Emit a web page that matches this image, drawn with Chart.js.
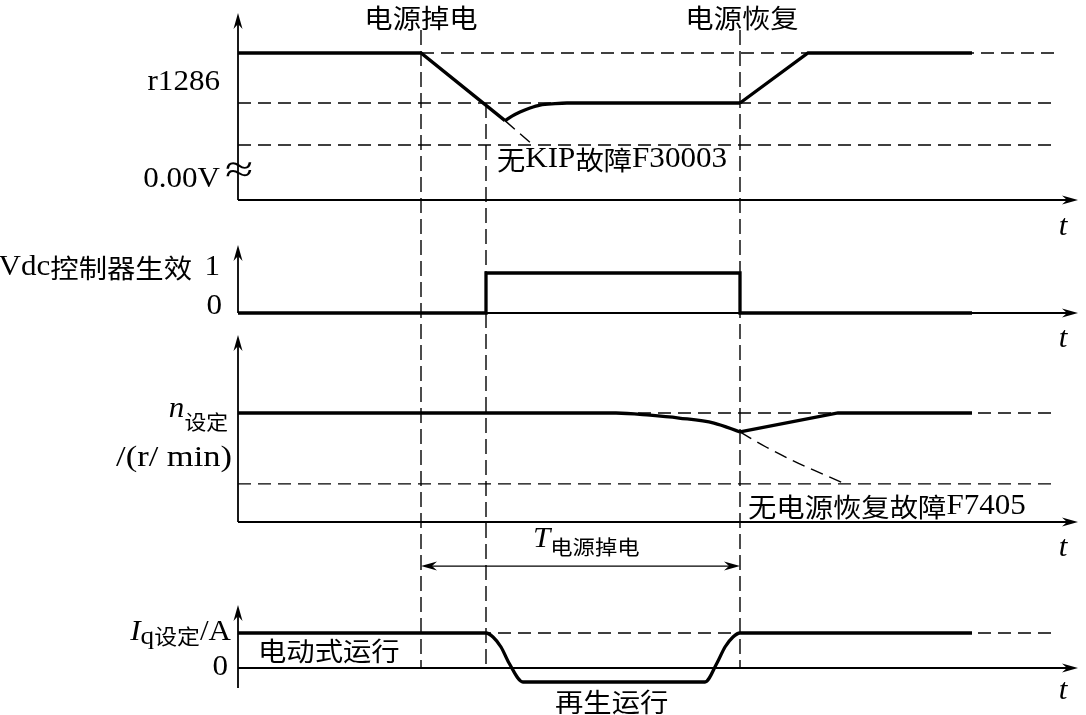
<!DOCTYPE html>
<html>
<head>
<meta charset="utf-8">
<script src="https://cdn.jsdelivr.net/npm/chart.js@4/dist/chart.umd.min.js"></script>
<style>
html, body { margin: 0; padding: 0; background: #fff; }
#wrap { width: 1086px; height: 715px; }
</style>
</head>
<body>
<div id="wrap"><canvas id="timing" width="1086" height="715"></canvas></div>
<script>
// time axis in arbitrary units
const tFail = 18.3;
const tVdc = 24.8;
const tRestore = 50.2;
const tEnd = 73.4;
const tRefEnd = 82;
const tMax = 84;

// panel 1: DC link voltage, normalised (1 = normal)
const vdcDrop = [[0, 1], [tFail, 1], [26.7, 0.54]];
const vdcRecover = [[26.7, 0.54], [27.4, 0.571], [28.2, 0.599], [29.2, 0.626], [30.2, 0.646], [31.7, 0.656], [32.9, 0.66], [tRestore, 0.66]];
const vdcRamp = [[tRestore, 0.66], [57, 1], [tEnd, 1]];
const vdcNoKip = [[26.7, 0.54], [29.5, 0.374]];
const vdcLevels = [1, 0.66, 0.374];
const vdcLevelFrom = [tFail, 0, 0];

// panel 2: Vdc controller active (0/1)
const vdcActive = [[0, 0], [tVdc, 0], [tVdc, 1], [tRestore, 1], [tRestore, 0], [tEnd, 0]];

// panel 3: speed setpoint, normalised
const nSet = [[0, 1], [37.8, 1], [41.2, 0.98], [44.1, 0.954], [47.6, 0.908], [tRestore, 0.826]];
const nRamp = [[tRestore, 0.826], [60, 1], [tEnd, 1]];
const nNoRestore = [[tRestore, 0.826], [52.8, 0.688], [56, 0.541], [60.5, 0.358]];
const nLevels = [1, 0.35];

// panel 4: torque current setpoint, normalised
const iqSet = [[0, 1], [tVdc, 1], [25.5, 0.886], [26.3, 0.6], [27.1, 0.143], [28.5, -0.4],
  [46.7, -0.4], [47.9, 0.143], [48.7, 0.6], [49.5, 0.886], [tRestore, 1], [tEnd, 1]];
const iqLevels = [1];

const STRETCH = 1.09;
const CJK = /[\u3000-\u9fff\uff00-\uffef]/;

function pts(arr) {
    return arr.map(p => ({ x: p[0], y: p[1] }));
}

function solid(arr, axis, smooth) {
    return {
        data: pts(arr), yAxisID: axis, order: 0,
        borderColor: "#000", borderWidth: 3.3, pointRadius: 0, fill: false,
        tension: 0, cubicInterpolationMode: smooth ? "monotone" : "default"
    };
}

function dashed(arr, axis, smooth) {
    return {
        data: pts(arr), yAxisID: axis, order: 1,
        borderColor: "#000", borderWidth: 1.4, borderDash: [13, 7], pointRadius: 0, fill: false,
        tension: 0, cubicInterpolationMode: smooth ? "monotone" : "default"
    };
}

const datasets = [
    solid(vdcDrop, "y1"),
    solid(vdcRecover, "y1", true),
    solid(vdcRamp, "y1"),
    dashed(vdcNoKip, "y1"),
    solid(vdcActive, "y2"),
    solid(nSet, "y3", true),
    solid(nRamp, "y3"),
    dashed(nNoRestore, "y3", true),
    solid(iqSet, "y4", true)
];
vdcLevels.forEach((v, i) => datasets.push(dashed([[vdcLevelFrom[i], v], [tRefEnd, v]], "y1")));
nLevels.forEach(v => datasets.push(dashed([[0, v], [tRefEnd, v]], "y3")));
iqLevels.forEach(v => datasets.push(dashed([[0, v], [tRefEnd, v]], "y4")));

// axis extents of each panel (value units of its own y scale)
const panels = [
    { axis: "y1", bottom: 0, top: 1.272 },
    { axis: "y2", bottom: 0, top: 1.7 },
    { axis: "y3", bottom: 0, top: 1.716 },
    { axis: "y4", bottom: -0.57, top: 1.8 }
];

// vertical dashed event lines
const markers = [
    { t: tFail, axis: "y1", v: 1.156 },
    { t: tVdc, axis: "y1", v: 0.66 },
    { t: tRestore, axis: "y1", v: 1.156 }
];

const labels = [
    { axis: "y1", t: tFail, v: 1.238, align: "center", parts: [{ s: "电源掉电" }] },
    { axis: "y1", t: 50.4, v: 1.238, align: "center", parts: [{ s: "电源恢复" }] },
    { axis: "y1", t: -1.8, v: 0.796, align: "right", parts: [{ s: "r1286" }] },
    { axis: "y1", t: -1.8, v: 0.136, align: "right", parts: [{ s: "0.00V" }] },
    { axis: "y1", t: 0.1, v: 0.19, align: "center", parts: [{ s: "≈", size: 38, stretch: 1.35 }] },
    { axis: "y1", t: 25.9, v: 0.272, align: "left", parts: [{ s: "无KIP故障F30003" }] },
    { axis: "y1", t: 82.5, v: -0.184, align: "center", parts: [{ s: "t", italic: true }] },
    { axis: "y2", t: -4.6, v: 1.125, align: "right", parts: [{ s: "Vdc控制器生效" }] },
    { axis: "y2", t: -1.8, v: 1.125, align: "right", parts: [{ s: "1" }] },
    { axis: "y2", t: -1.6, v: 0.15, align: "right", parts: [{ s: "0" }] },
    { axis: "y2", t: 82.5, v: -0.675, align: "center", parts: [{ s: "t", italic: true }] },
    { axis: "y3", t: -1.0, v: 1.03, align: "right", parts: [{ s: "n", italic: true }, { s: "设定", cjkSize: 20, dy: 13 }] },
    { axis: "y3", t: -0.6, v: 0.587, align: "right", parts: [{ s: "/(r/ min)", size: 30, stretch: 1.15 }] },
    { axis: "y3", t: 51, v: 0.138, align: "left", parts: [{ s: "无电源恢复故障F7405" }] },
    { axis: "y3", t: 29.5, v: -0.165, align: "left", parts: [{ s: "T", italic: true }, { s: "电源掉电", cjkSize: 20.5, dy: 7 }] },
    { axis: "y3", t: 82.5, v: -0.239, align: "center", parts: [{ s: "t", italic: true }] },
    { axis: "y4", t: -0.7, v: 1.0, align: "right", parts: [{ s: "I", italic: true }, { s: "q", size: 25, dy: 4 }, { s: "设定", cjkSize: 21, dy: 3 }, { s: "/A" }] },
    { axis: "y4", t: -1.0, v: 0, align: "right", parts: [{ s: "0" }] },
    { axis: "y4", t: 2.0, v: 0.486, align: "left", parts: [{ s: "电动式运行" }] },
    { axis: "y4", t: 31.7, v: -0.971, align: "left", parts: [{ s: "再生运行" }] },
    { axis: "y4", t: 82.5, v: -0.686, align: "center", parts: [{ s: "t", italic: true }] }
];

function runs(str) {
    const out = [];
    for (const ch of str) {
        const c = CJK.test(ch);
        if (out.length && out[out.length - 1].cjk === c) out[out.length - 1].s += ch;
        else out.push({ s: ch, cjk: c });
    }
    return out;
}

function runFont(run, part) {
    if (run.cjk) return (part.cjkSize || 26) + 'px "Noto Sans CJK SC"';
    return (part.italic ? "italic " : "") + (part.size || 28.5) + 'px "Liberation Serif"';
}

function drawLabel(ctx, x, y, parts, align) {
    const pieces = [];
    let total = 0;
    parts.forEach(part => {
        runs(part.s).forEach(run => {
            ctx.font = runFont(run, part);
            const k = part.stretch || STRETCH;
            const w = ctx.measureText(run.s).width * k;
            pieces.push({ run, part, w, k });
            total += w;
        });
    });
    let cx = align === "right" ? x - total : align === "center" ? x - total / 2 : x;
    pieces.forEach(p => {
        ctx.save();
        ctx.font = runFont(p.run, p.part);
        ctx.translate(cx, y + (p.part.dy || 0));
        ctx.scale(p.k, 1);
        ctx.fillText(p.run.s, 0, 0);
        ctx.restore();
        cx += p.w;
    });
}

function arrowHead(ctx, x, y, angle) {
    ctx.save();
    ctx.translate(x, y);
    ctx.rotate(angle);
    ctx.beginPath();
    ctx.moveTo(0, 0);
    ctx.lineTo(-16, -4.5);
    ctx.lineTo(-11, 0);
    ctx.lineTo(-16, 4.5);
    ctx.closePath();
    ctx.fill();
    ctx.restore();
}

function segment(ctx, x0, y0, x1, y1) {
    ctx.beginPath();
    ctx.moveTo(x0, y0);
    ctx.lineTo(x1, y1);
    ctx.stroke();
}

const timingPlugin = {
    id: "timing",
    beforeDatasetsDraw(chart) {
        const { ctx, scales } = chart;
        ctx.save();
        ctx.strokeStyle = "#000";
        ctx.lineWidth = 1.4;
        ctx.setLineDash([15, 6]);
        markers.forEach(m => {
            const x = scales.x.getPixelForValue(m.t);
            segment(ctx, x, scales[m.axis].getPixelForValue(m.v), x, scales.y4.getPixelForValue(0));
        });
        ctx.restore();
    },
    afterDatasetsDraw(chart) {
        const { ctx, scales } = chart;
        const x0 = scales.x.getPixelForValue(0);
        const x1 = scales.x.getPixelForValue(tMax);
        ctx.save();
        ctx.strokeStyle = "#000";
        ctx.fillStyle = "#000";
        ctx.lineWidth = 1.8;
        panels.forEach(p => {
            const ys = scales[p.axis];
            const yz = ys.getPixelForValue(0);
            const yt = ys.getPixelForValue(p.top);
            segment(ctx, x0, yz, x1 - 8, yz);
            arrowHead(ctx, x1, yz, 0);
            segment(ctx, x0, ys.getPixelForValue(p.bottom), x0, yt + 8);
            arrowHead(ctx, x0, yt, -Math.PI / 2);
        });

        // T power-loss span
        const ya = scales.y3.getPixelForValue(-0.404);
        const xa = scales.x.getPixelForValue(tFail);
        const xb = scales.x.getPixelForValue(tRestore);
        ctx.lineWidth = 1.3;
        segment(ctx, xa + 6, ya, xb - 6, ya);
        arrowHead(ctx, xa, ya, Math.PI);
        arrowHead(ctx, xb, ya, 0);

        ctx.textBaseline = "middle";
        labels.forEach(l => {
            drawLabel(ctx, scales.x.getPixelForValue(l.t), scales[l.axis].getPixelForValue(l.v), l.parts, l.align);
        });
        ctx.restore();
    }
};

function yScale(min, max, weight, stackWeight) {
    return { type: "linear", display: false, position: "left", stack: "panels", min, max, weight, stackWeight };
}

new Chart(document.getElementById("timing"), {
    type: "line",
    data: { datasets },
    options: {
        responsive: false,
        devicePixelRatio: 1,
        animation: false,
        layout: { padding: { left: 238, right: 8, top: 0, bottom: 0 } },
        plugins: { legend: { display: false }, tooltip: { enabled: false } },
        scales: {
            x: { type: "linear", display: false, min: 0, max: tMax },
            y1: yScale(-0.2177, 1.3605, 4, 232),
            y2: yScale(-0.425, 2.025, 3, 98),
            y3: yScale(-0.6239, 1.7615, 2, 260),
            y4: yScale(-1.3429, 2.2286, 1, 125)
        }
    },
    plugins: [timingPlugin]
});
</script>
</body>
</html>
